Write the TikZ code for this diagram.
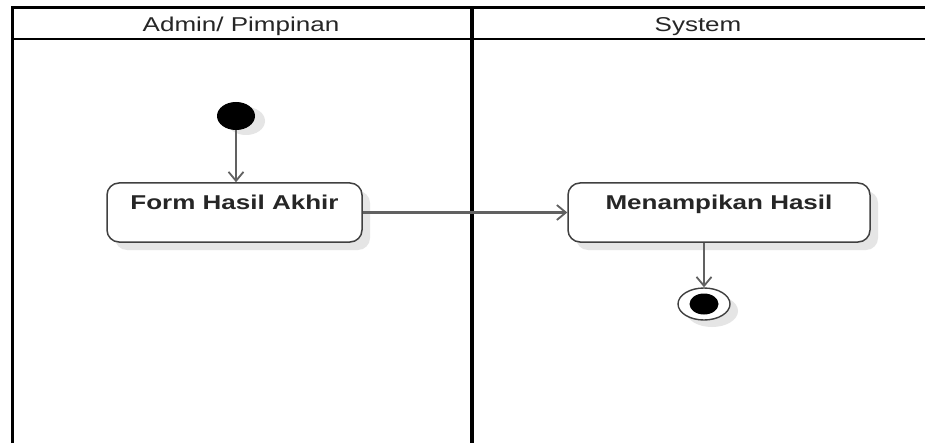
\documentclass[tikz,border=0pt]{standalone}
\usepackage{fontspec}
\setmainfont{Liberation Sans}
\usetikzlibrary{arrows.meta,shapes.geometric}
\newcommand\hstretch[1]{\scalebox{1.3}[1]{#1}}
\begin{document}
\begin{tikzpicture}[x=1pt,y=-1pt,
  act/.style={draw=black!75,line width=1.5pt,fill=white,rounded corners=12pt,
    minimum height=59pt,inner sep=0pt,text height=27pt,text depth=32pt,
    font=\bfseries\fontsize{20}{24}\selectfont,text=black!85},
  shad/.style={fill=black!10,draw=none,rounded corners=12pt},
  hdr/.style={font=\fontsize{20}{24}\selectfont,text=black!85,anchor=base,inner sep=0pt},
  flow/.style={draw=black!62,line width=2.2pt,
    -{Straight Barb[length=9pt,width=15pt,line width=1.8pt]}},
  dot/.style={ellipse,fill=black,inner sep=0pt}]
\useasboundingbox (0,0) rectangle (925,446);
\fill[white] (0,0) rectangle (925,446);
% swimlane frame
\draw[line width=3pt] (12,443) -- (12,8) -- (925,8);
\draw[line width=2.5pt] (12,39) -- (925,39);
\draw[line width=4pt] (472,8) -- (472,443);
\node[hdr] (h1) at (241,32) {\hstretch{Admin/ Pimpinan}};
\node[hdr] (h2) at (698,32) {\hstretch{System}};
% shadows
\fill[shad] (115,191) rectangle (370,250);
\fill[shad] (576,191) rectangle (878,250);
\fill[black!10] (246,121) ellipse [x radius=19pt,y radius=14pt];
\fill[black!10] (712,311) ellipse [x radius=26pt,y radius=16pt];
% nodes
\node[dot,minimum width=38pt,minimum height=28pt] (init) at (236,116) {};
\node[act,minimum width=255pt] (a1) at (234.5,212.5) {\hstretch{Form Hasil Akhir}};
\node[act,minimum width=302pt] (a2) at (719,212.5) {\hstretch{Menampikan Hasil}};
\node[ellipse,draw=black!75,line width=1.4pt,fill=white,minimum width=52pt,minimum height=32pt,inner sep=0pt] (fin) at (704,304) {};
\node[dot,minimum width=29pt,minimum height=21pt] (finc) at (fin) {};
% flows
\draw[flow] (init.south) -- (init |- a1.north);
\draw[flow] (a1.east) -- (a2.west);
\draw[flow] (a2.south -| fin) -- (fin.north);
\end{tikzpicture}
\end{document}
